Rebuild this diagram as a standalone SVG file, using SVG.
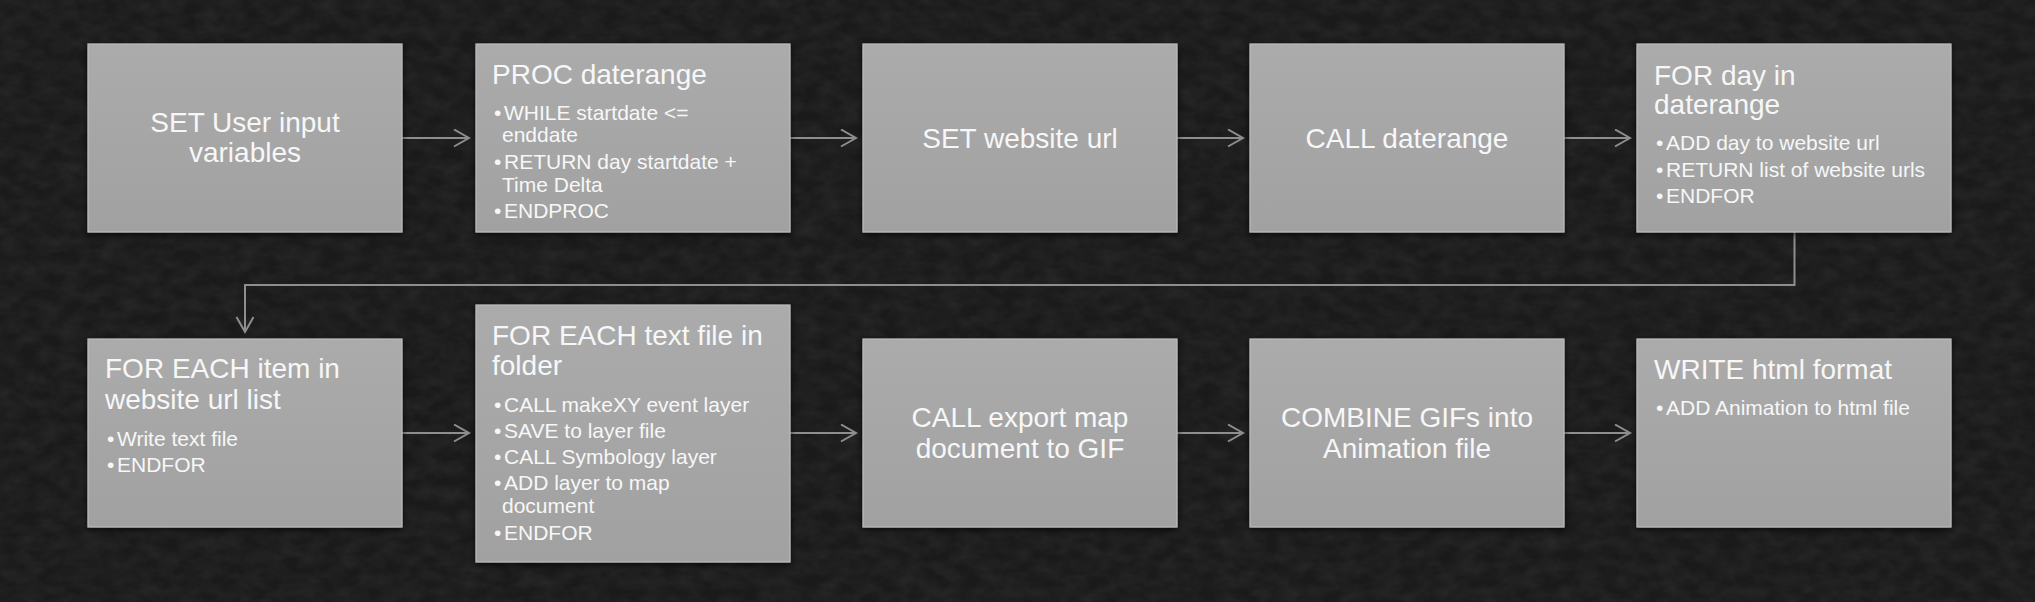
<svg xmlns="http://www.w3.org/2000/svg" width="2035" height="602" viewBox="0 0 2035 602">
<defs>
<linearGradient id="boxfill" x1="0" y1="0" x2="0" y2="1">
<stop offset="0" stop-color="#ababab"/>
<stop offset="1" stop-color="#a1a1a1"/>
</linearGradient>
<filter id="shadow" x="-10%" y="-10%" width="120%" height="120%">
<feDropShadow dx="0" dy="2" stdDeviation="3" flood-color="#000" flood-opacity="0.7"/>
</filter>
<filter id="tex" x="0" y="0" width="100%" height="100%">
<feTurbulence type="fractalNoise" baseFrequency="0.05 0.08" numOctaves="3" seed="7"/>
<feColorMatrix type="matrix" values="0 0 0 0 1  0 0 0 0 1  0 0 0 0 1  0.09 0 0 0 -0.025"/>
</filter>
<marker id="chev" markerUnits="userSpaceOnUse" markerWidth="20" markerHeight="22" refX="16" refY="9.5" orient="auto">
<path d="M1,1 L16,9.5 L1,18" fill="none" stroke="#8e8e8e" stroke-width="2"/>
</marker>
<style>
.box{fill:url(#boxfill);stroke:#bcbcbc;stroke-width:1.2;filter:url(#shadow)}
.t{font-family:"Liberation Sans",Arial,sans-serif;font-size:28px;fill:#f7f7f7}
.c{text-anchor:middle}
.b{font-family:"Liberation Sans",Arial,sans-serif;font-size:21px;fill:#f7f7f7}
.con{fill:none;stroke:#8e8e8e;stroke-width:2}
</style>
</defs>
<rect x="0" y="0" width="2035" height="602" fill="#1a1a1a"/>
<rect x="0" y="0" width="2035" height="602" filter="url(#tex)"/>

<g id="connectors">
<line class="con" x1="402" y1="138" x2="469" y2="138" marker-end="url(#chev)"/>
<line class="con" x1="790" y1="138" x2="856" y2="138" marker-end="url(#chev)"/>
<line class="con" x1="1177" y1="138" x2="1243" y2="138" marker-end="url(#chev)"/>
<line class="con" x1="1564" y1="138" x2="1630" y2="138" marker-end="url(#chev)"/>
<polyline class="con" points="1794.5,232 1794.5,285 245,285 245,332" marker-end="url(#chev)"/>
<line class="con" x1="402" y1="433" x2="469" y2="433" marker-end="url(#chev)"/>
<line class="con" x1="790" y1="433" x2="856" y2="433" marker-end="url(#chev)"/>
<line class="con" x1="1177" y1="433" x2="1243" y2="433" marker-end="url(#chev)"/>
<line class="con" x1="1564" y1="433" x2="1630" y2="433" marker-end="url(#chev)"/>
</g>

<g id="n1">
<rect class="box" x="88" y="44" width="314" height="188"/>
<text class="t c" x="245" y="132">SET User input</text>
<text class="t c" x="245" y="162">variables</text>
</g>

<g id="n2">
<rect class="box" x="476" y="44" width="314" height="188"/>
<text class="t" x="492" y="84">PROC daterange</text>
<text class="b" x="494" y="120">•</text><text class="b" x="504" y="120">WHILE startdate &lt;=</text>
<text class="b" x="502" y="142">enddate</text>
<text class="b" x="494" y="169">•</text><text class="b" x="504" y="169">RETURN day startdate +</text>
<text class="b" x="502" y="192">Time Delta</text>
<text class="b" x="494" y="218">•</text><text class="b" x="504" y="218">ENDPROC</text>
</g>

<g id="n3">
<rect class="box" x="863" y="44" width="314" height="188"/>
<text class="t c" x="1020" y="148">SET website url</text>
</g>

<g id="n4">
<rect class="box" x="1250" y="44" width="314" height="188"/>
<text class="t c" x="1407" y="148">CALL daterange</text>
</g>

<g id="n5">
<rect class="box" x="1637" y="44" width="314" height="188"/>
<text class="t" x="1654" y="85">FOR day in</text>
<text class="t" x="1654" y="114">daterange</text>
<text class="b" x="1656" y="150">•</text><text class="b" x="1666" y="150">ADD day to website url</text>
<text class="b" x="1656" y="177">•</text><text class="b" x="1666" y="177">RETURN list of website urls</text>
<text class="b" x="1656" y="203">•</text><text class="b" x="1666" y="203">ENDFOR</text>
</g>

<g id="n6">
<rect class="box" x="88" y="339" width="314" height="188"/>
<text class="t" x="105" y="378">FOR EACH item in</text>
<text class="t" x="105" y="409">website url list</text>
<text class="b" x="107" y="446">•</text><text class="b" x="117" y="446">Write text file</text>
<text class="b" x="107" y="472">•</text><text class="b" x="117" y="472">ENDFOR</text>
</g>

<g id="n7">
<rect class="box" x="476" y="305" width="314" height="257"/>
<text class="t" x="492" y="345">FOR EACH text file in</text>
<text class="t" x="492" y="375">folder</text>
<text class="b" x="494" y="412">•</text><text class="b" x="504" y="412">CALL makeXY event layer</text>
<text class="b" x="494" y="438">•</text><text class="b" x="504" y="438">SAVE to layer file</text>
<text class="b" x="494" y="464">•</text><text class="b" x="504" y="464">CALL Symbology layer</text>
<text class="b" x="494" y="490">•</text><text class="b" x="504" y="490">ADD layer to map</text>
<text class="b" x="502" y="513">document</text>
<text class="b" x="494" y="540">•</text><text class="b" x="504" y="540">ENDFOR</text>
</g>

<g id="n8">
<rect class="box" x="863" y="339" width="314" height="188"/>
<text class="t c" x="1020" y="427">CALL export map</text>
<text class="t c" x="1020" y="458">document to GIF</text>
</g>

<g id="n9">
<rect class="box" x="1250" y="339" width="314" height="188"/>
<text class="t c" x="1407" y="427">COMBINE GIFs into</text>
<text class="t c" x="1407" y="458">Animation file</text>
</g>

<g id="n10">
<rect class="box" x="1637" y="339" width="314" height="188"/>
<text class="t" x="1654" y="379">WRITE html format</text>
<text class="b" x="1656" y="415">•</text><text class="b" x="1666" y="415">ADD Animation to html file</text>
</g>
</svg>
